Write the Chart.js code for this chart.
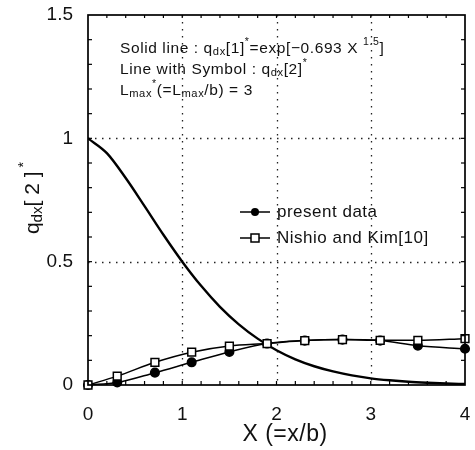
<!DOCTYPE html>
<html>
<head>
<meta charset="utf-8">
<script src="https://cdn.jsdelivr.net/npm/chart.js@4/dist/chart.umd.min.js"></script>
<style>
html,body{margin:0;padding:0;background:#fff;}
canvas{display:block;}
</style>
</head>
<body>
<canvas id="c" width="475" height="450"></canvas>
<script>
// ---- data ----
const xSymbols   = [0, 0.31, 0.71, 1.1, 1.5, 1.9, 2.3, 2.7, 3.1, 3.5, 4.0];
const presentData = [0, 0.01, 0.05, 0.092, 0.134, 0.168, 0.18, 0.184, 0.18, 0.159, 0.147];
const nishioKim   = [0, 0.036, 0.092, 0.133, 0.158, 0.168, 0.18, 0.184, 0.181, 0.181, 0.188];
const xSolid     = [0, 0.2, 0.4, 0.6, 0.8, 1.0, 1.2, 1.4, 1.6, 1.8, 2.0, 2.2, 2.4, 2.6, 2.8, 3.0, 3.2, 3.4, 3.6, 3.8, 4.0];
const solidLine  = [1.0, 0.94, 0.839, 0.725, 0.609, 0.5, 0.402, 0.317, 0.246, 0.188, 0.141, 0.104, 0.076, 0.055, 0.039, 0.027, 0.019, 0.013, 0.009, 0.006, 0.004];
const xTickLabels = ['0', '1', '2', '3', '4'];
const yTickLabels = ['0', '0.5', '1', '1.5'];
const legendLabels = ['present data', 'Nishio and Kim[10]'];

const FONT = '"Liberation Sans", Arial, Helvetica, sans-serif';
const pts = (xs, ys) => xs.map((x, i) => ({x: x, y: ys[i]}));

function sizeOf(k, base) {
  if (k === 'sub') return {size: base * 0.72, dy: base * 0.22};
  if (k === 'sup') return {size: base * 0.68, dy: -base * 0.42};
  return {size: base, dy: 0};
}
function drawRich(ctx, x, y, parts, base) {
  let cx = x;
  for (const [t, k] of parts) {
    const {size, dy} = sizeOf(k, base);
    ctx.font = size + 'px ' + FONT;
    ctx.fillText(t, cx, y + dy);
    cx += ctx.measureText(t).width;
  }
  return cx - x;
}
function richWidth(ctx, parts, base) {
  let w = 0;
  for (const [t, k] of parts) {
    ctx.font = sizeOf(k, base).size + 'px ' + FONT;
    w += ctx.measureText(t).width;
  }
  return w;
}

const decor = {
  id: 'decor',
  beforeDatasetsDraw(chart) {
    const {ctx, chartArea: a, scales: {x, y}} = chart;
    ctx.save();
    ctx.strokeStyle = '#222';
    ctx.lineWidth = 1.3;
    ctx.setLineDash([1.5, 5.5]);
    [1, 2, 3].forEach(v => {
      const px = Math.round(x.getPixelForValue(v)) + 0.5;
      ctx.beginPath(); ctx.moveTo(px, a.top); ctx.lineTo(px, a.bottom); ctx.stroke();
    });
    [0.5, 1].forEach(v => {
      const py = Math.round(y.getPixelForValue(v)) + 0.5;
      ctx.beginPath(); ctx.moveTo(a.left, py); ctx.lineTo(a.right, py); ctx.stroke();
    });
    ctx.restore();
  },
  afterDatasetsDraw(chart) {
    const {ctx, chartArea: a, scales: {x, y}} = chart;
    ctx.save();
    ctx.strokeStyle = '#000';
    ctx.lineWidth = 1.2;
    for (let i = 1; i < 15; i++) {
      const py = y.getPixelForValue(i / 10);
      ctx.beginPath(); ctx.moveTo(a.left, py); ctx.lineTo(a.left + 4, py); ctx.stroke();
      ctx.beginPath(); ctx.moveTo(a.right, py); ctx.lineTo(a.right - 4, py); ctx.stroke();
    }
    for (let i = 1; i < 20; i++) {
      const px = x.getPixelForValue(i / 5);
      ctx.beginPath(); ctx.moveTo(px, a.bottom); ctx.lineTo(px, a.bottom - 4); ctx.stroke();
      ctx.beginPath(); ctx.moveTo(px, a.top); ctx.lineTo(px, a.top + 3); ctx.stroke();
    }
    ctx.lineWidth = 1.7;
    ctx.strokeRect(a.left, a.top, a.right - a.left, a.bottom - a.top);
    ctx.restore();
  },
  afterDraw(chart) {
    const {ctx} = chart;
    ctx.save();
    ctx.fillStyle = '#111';
    ctx.textBaseline = 'middle';
    ctx.textAlign = 'left';
    // annotation text
    ctx.letterSpacing = '0.6px';
    const ax = 120, fs = 15.5;
    drawRich(ctx, ax, 49, [['Solid line : q','n'],['dx','sub'],['[1]','n'],['*','sup'],['=exp[\u22120.693 X ','n'],['1.5','sup'],[']','n']], fs);
    drawRich(ctx, ax, 70, [['Line with Symbol : q','n'],['dx','sub'],['[2]','n'],['*','sup']], fs);
    drawRich(ctx, ax, 91, [['L','n'],['max','sub'],['*','sup'],['(=L','n'],['max','sub'],['/b) = 3','n']], fs);

    // legend
    const lx0 = 240, lx1 = 270, tx = 277;
    const ly = [212, 238];
    ctx.strokeStyle = '#000';
    ctx.lineWidth = 1.5;
    ly.forEach((yy, i) => {
      ctx.beginPath(); ctx.moveTo(lx0, yy); ctx.lineTo(lx1, yy); ctx.stroke();
      const mx = (lx0 + lx1) / 2;
      if (i === 0) {
        ctx.fillStyle = '#000';
        ctx.beginPath(); ctx.arc(mx, yy, 4, 0, Math.PI * 2); ctx.fill();
      } else {
        ctx.fillStyle = '#fff';
        ctx.fillRect(mx - 4, yy - 4, 8, 8);
        ctx.strokeRect(mx - 4, yy - 4, 8, 8);
      }
      ctx.fillStyle = '#111';
      ctx.font = '17px ' + FONT;
      ctx.letterSpacing = '0.5px';
      ctx.fillText(legendLabels[i], tx, yy);
    });
    ctx.letterSpacing = '0px';

    // x-axis title
    ctx.font = '23px ' + FONT;
    ctx.textAlign = 'center';
    ctx.letterSpacing = '0.5px';
    ctx.fillText('X (=x/b)', 285, 435);
    ctx.letterSpacing = '0px';

    // y-axis title (rotated)
    ctx.translate(33, 198);
    ctx.rotate(-Math.PI / 2);
    ctx.textAlign = 'left';
    const yparts = [['q','n'],['dx','sub'],['[ 2 ]','n'],[' *','sup']];
    const w = richWidth(ctx, yparts, 21);
    drawRich(ctx, -w / 2, 0, yparts, 21);
    ctx.restore();
  }
};

new Chart(document.getElementById('c'), {
  type: 'line',
  data: {
    datasets: [
      {
        label: legendLabels[1],
        data: pts(xSymbols, nishioKim),
        borderColor: '#000', borderWidth: 1.5,
        pointStyle: 'rect', pointRadius: 5.5,
        pointBackgroundColor: '#fff', pointBorderColor: '#000', pointBorderWidth: 1.5,
        cubicInterpolationMode: 'monotone', order: 0, clip: false
      },
      {
        label: legendLabels[0],
        data: pts(xSymbols, presentData),
        borderColor: '#000', borderWidth: 1.5,
        pointStyle: 'circle', pointRadius: 4.3,
        pointBackgroundColor: '#000', pointBorderColor: '#000',
        cubicInterpolationMode: 'monotone', order: 1, clip: false
      },
      {
        label: 'solid',
        data: pts(xSolid, solidLine),
        borderColor: '#000', borderWidth: 2.4,
        pointRadius: 0, cubicInterpolationMode: 'monotone', order: 2
      }
    ]
  },
  options: {
    responsive: false,
    animation: false,
    layout: {padding: {top: 15, right: 10, left: 0, bottom: 0}},
    plugins: {legend: {display: false}, tooltip: {enabled: false}},
    scales: {
      x: {
        type: 'linear', min: 0, max: 4,
        grid: {display: false, drawTicks: false, tickLength: 0}, border: {display: false},
        ticks: {
          stepSize: 1, color: '#111', padding: 18,
          font: {family: FONT, size: 19},
          callback: (v) => xTickLabels[Math.round(v)] ?? ''
        },
        afterFit: (s) => { s.height = 65; s.paddingLeft = 0; s.paddingRight = 0; }
      },
      y: {
        type: 'linear', min: 0, max: 1.5,
        grid: {display: false, drawTicks: false, tickLength: 0}, border: {display: false},
        ticks: {
          stepSize: 0.5, color: '#111', padding: 15,
          font: {family: FONT, size: 19},
          callback: (v) => yTickLabels[Math.round(v * 2)] ?? ''
        },
        afterFit: (s) => { s.width = 88; s.paddingTop = 0; s.paddingBottom = 0; }
      }
    }
  },
  plugins: [decor]
});
</script>
</body>
</html>
